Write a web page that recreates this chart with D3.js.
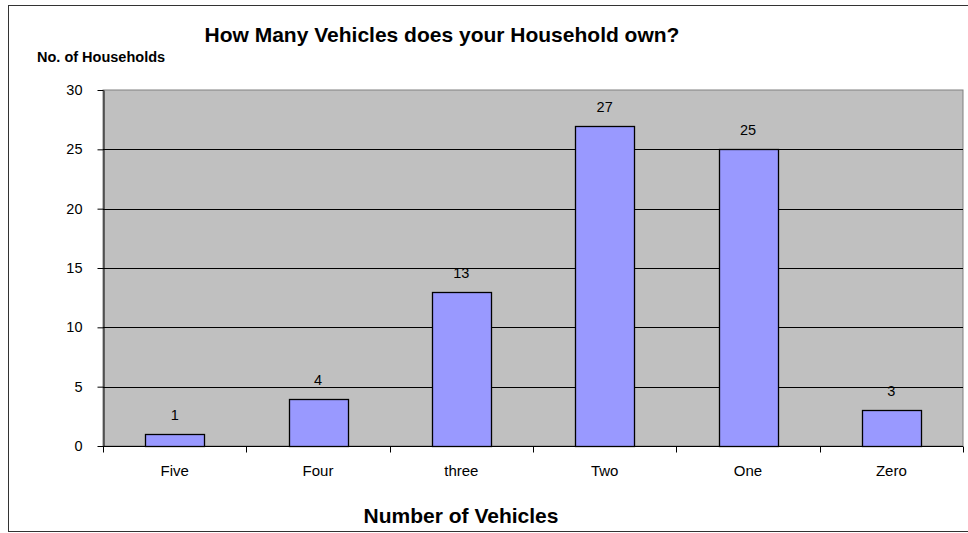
<!DOCTYPE html>
<html><head><meta charset="utf-8">
<script src="https://cdn.jsdelivr.net/npm/d3@7"></script>
<style>body{margin:0;background:#fff;} text{font-family:"Liberation Sans",Arial,sans-serif;}</style>
</head><body>
<svg id="c" width="968" height="533"></svg>
<script>
const categories = ["Five","Four","three","Two","One","Zero"];
const values = [1,4,13,27,25,3];
const yTicks = [0,5,10,15,20,25,30];

const svg = d3.select("#c");
const L=103, R=963, T=90, B=446;
// outer chart border
svg.append("rect").attr("x",8.5).attr("y",5.5).attr("width",980).attr("height",526)
  .attr("fill","#fff").attr("stroke","#333").attr("stroke-width",1);

const x = d3.scaleBand().domain(categories).range([L,R]);
const y = d3.scaleLinear().domain([0,30]).range([B,T]);

svg.append("rect").attr("x",L).attr("y",T).attr("width",R-L).attr("height",B-T)
  .attr("fill","#c0c0c0").attr("stroke","#808080").attr("stroke-width",1);

svg.append("g").selectAll("line").data(yTicks.filter(d=>d>0 && d<30)).join("line")
  .attr("x1",L).attr("x2",R).attr("y1",d=>Math.round(y(d))+0.5).attr("y2",d=>Math.round(y(d))+0.5)
  .attr("stroke","#000").attr("stroke-width",1);

const yAxis = svg.append("g").attr("transform",`translate(${L+0.5},0)`)
  .call(d3.axisLeft(y).tickValues(yTicks).tickSize(6).tickPadding(15).tickSizeOuter(0));
yAxis.select(".domain").attr("stroke","#000");
yAxis.selectAll("text").attr("font-size",14.5).attr("fill","#000").attr("font-family","Liberation Sans, Arial");

const bw = 59;
svg.append("g").selectAll("rect").data(values).join("rect")
  .attr("x",(d,i)=>Math.round(x(categories[i])+x.bandwidth()/2-bw/2)+0.5)
  .attr("y",d=>Math.round(y(d))+0.5)
  .attr("width",bw).attr("height",d=>Math.round(B-y(d)))
  .attr("fill","#9999ff").attr("stroke","#000").attr("stroke-width",1.3);

svg.append("g").selectAll("text").data(values).join("text")
  .attr("x",(d,i)=>x(categories[i])+x.bandwidth()/2)
  .attr("y",d=>y(d)-14).attr("text-anchor","middle").attr("font-size",14.5).text(d=>d);

// x axis
const xAxisG = svg.append("g").attr("transform",`translate(0,${B+0.5})`);
xAxisG.append("line").attr("x1",L).attr("x2",R).attr("stroke","#000");
const bounds = categories.map(c=>x(c)).concat([R]);
xAxisG.selectAll("line.t").data(bounds).join("line").attr("class","t")
  .attr("x1",d=>Math.round(d)+0.5).attr("x2",d=>Math.round(d)+0.5).attr("y1",0).attr("y2",6).attr("stroke","#000");
xAxisG.selectAll("text").data(categories).join("text")
  .attr("x",d=>x(d)+x.bandwidth()/2).attr("y",29).attr("text-anchor","middle").attr("font-size",15).text(d=>d);

svg.append("text").attr("x",442).attr("y",42).attr("text-anchor","middle")
  .attr("font-size",21).attr("font-weight","bold").text("How Many Vehicles does your Household own?");
svg.append("text").attr("x",37).attr("y",62)
  .attr("font-size",14.5).attr("font-weight","bold").text("No. of Households");
svg.append("text").attr("x",461).attr("y",523).attr("text-anchor","middle")
  .attr("font-size",21).attr("font-weight","bold").text("Number of Vehicles");
</script>
</body></html>
